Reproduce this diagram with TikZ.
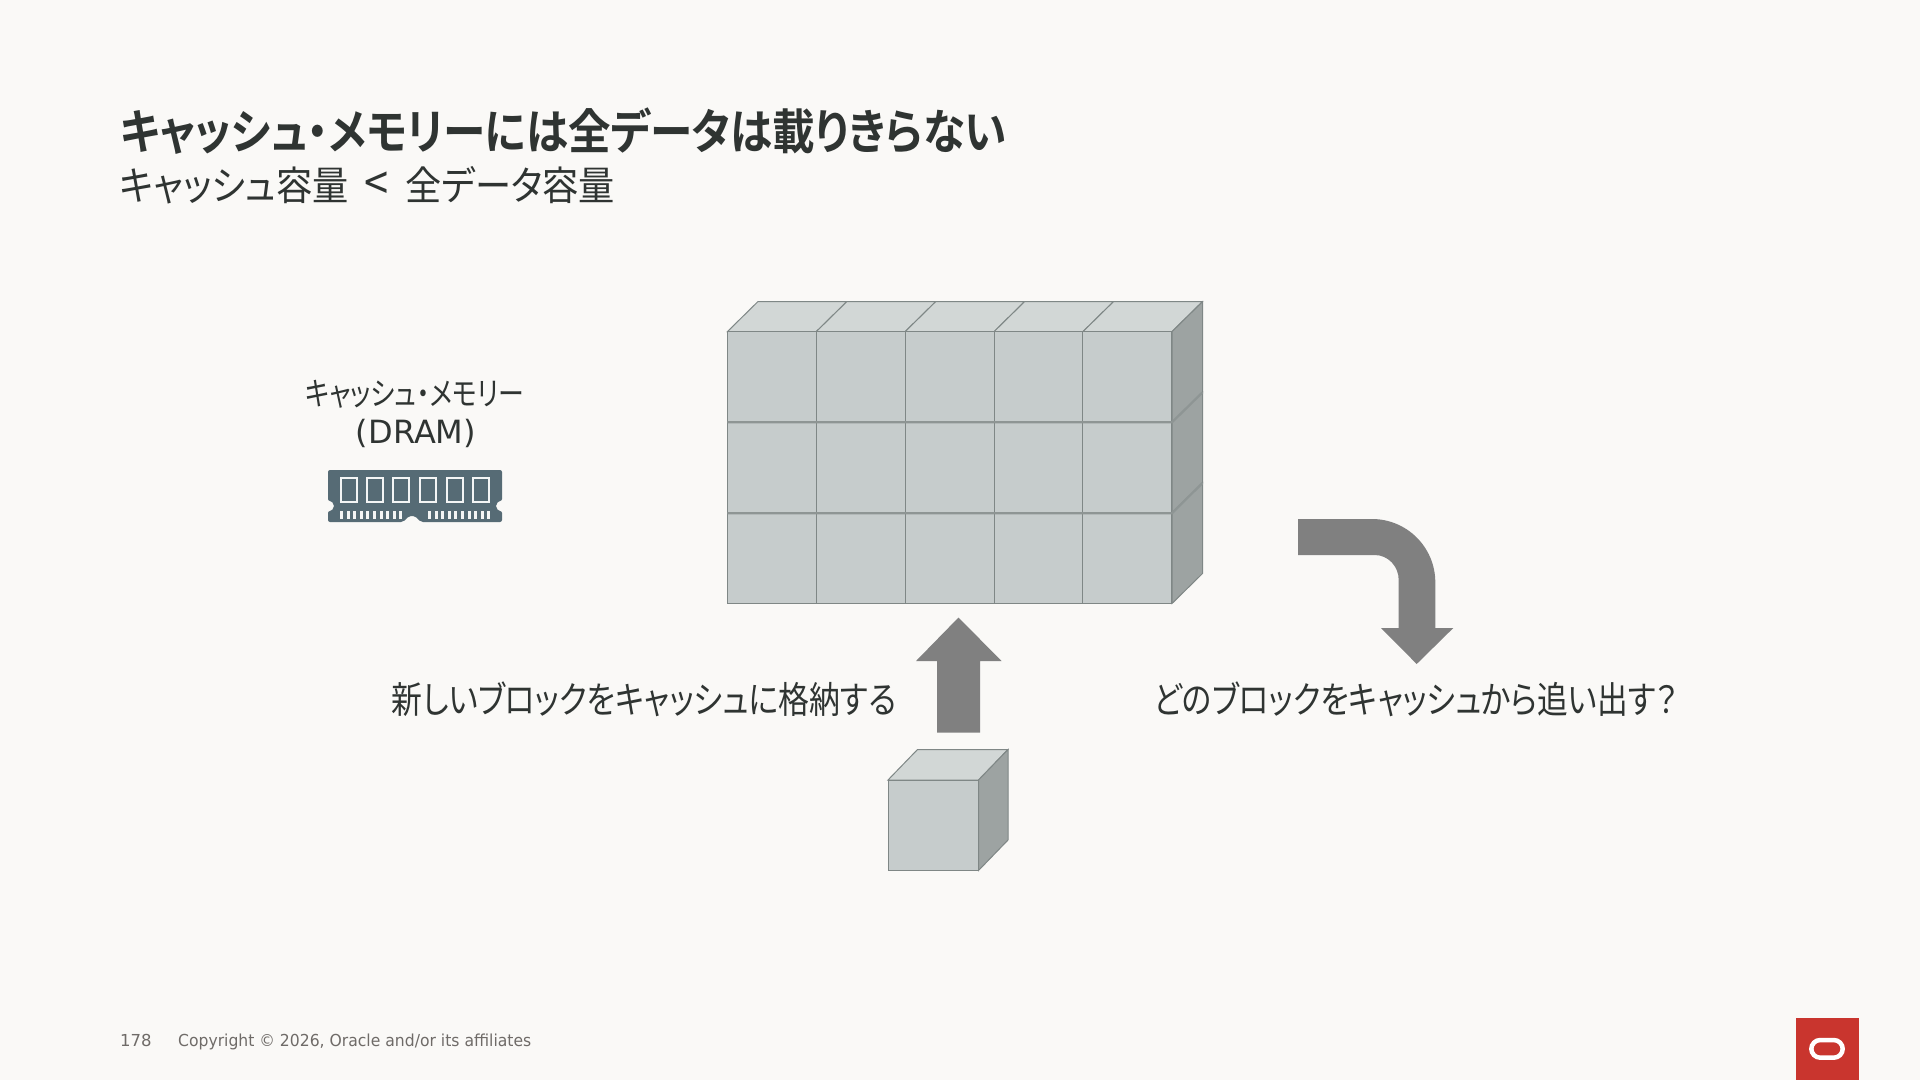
\documentclass[tikz,border=0pt]{standalone}
\usepackage{fontspec}
\usepackage{xcolor}
\usepackage{tikz}
\usetikzlibrary{positioning, calc}
\setmainfont{DejaVu Sans}
\newfontfamily\jpfont[RawFeature=+palt]{Noto Sans CJK JP}
\newfontfamily\jpbold[RawFeature=+palt]{Noto Sans CJK JP Bold}
\definecolor{pagebg}{HTML}{FAF9F7}
\definecolor{inktext}{HTML}{2F3432}
\definecolor{footgray}{HTML}{6F6B68}
\definecolor{cellfront}{HTML}{C6CCCC}
\definecolor{celltop}{HTML}{D2D7D6}
\definecolor{cellside}{HTML}{9DA3A2}
\definecolor{celledge}{HTML}{7F8786}
\definecolor{seamgray}{HTML}{8E9594}
\definecolor{blockarrow}{HTML}{808080}
\definecolor{ramblue}{HTML}{566B75}
\definecolor{ramlight}{HTML}{F4F5F5}
\definecolor{logored}{HTML}{C9352E}

\begin{document}
\begin{tikzpicture}[
    x=1pt, y=-1pt,
    front/.style={draw=celledge, line width=1pt, fill=cellfront},
    top/.style={draw=celledge, line width=1pt, fill=celltop},
    side/.style={draw=celledge, line width=1pt, fill=cellside},
    seam/.style={draw=seamgray, line width=2.2pt},
    block/.style={fill=blockarrow, draw=none},
    label/.style={inner sep=0pt, text=inktext, font=\jpfont\fontsize{37}{40}\selectfont},
    foot/.style={inner sep=0pt, anchor=base west, text=footgray, font=\fontsize{16.5}{20}\selectfont}
]
    \useasboundingbox (0,0) rectangle (1920,1080);
    \fill[pagebg] (0,0) rectangle (1920,1080);

    % Heading
    \node[label, anchor=west, xscale=0.887, font=\jpbold\fontsize{48}{50}\selectfont] (title) at (120,131) {キャッシュ・メモリーには全データは載りきらない};
    \node[label, anchor=west, xscale=0.905, font=\jpfont\fontsize{40}{44}\selectfont] (subtitle) at (120,185) {キャッシュ容量 \ {\fontsize{48}{44}\selectfont <} \ 全データ容量};

    % Memory label and module
    \node[label, xscale=0.81, font=\jpfont\fontsize{32}{36}\selectfont] (cachename) at (414.5,394.5) {キャッシュ・メモリー};
    \node[label, font=\fontsize{32}{36}\selectfont] (dram) at (416,433) {(DRAM)};
    \fill[ramblue, rounded corners=2pt] (328,470) -- (502,470) -- (502,501) arc (270:90:6 and 5) -- (502,522)
        -- (421,522) -- (415,516) -- (409,516) -- (403,522) -- (328,522) -- (328,511) arc (90:-90:6 and 5) -- cycle;
    \foreach \x in {341,367,393,420,447,473} {
        \draw[ramlight, line width=2pt] (\x,477.5) rectangle +(16,24);
    }
    \foreach \i in {0,...,9} {
        \fill[ramlight] ({340+\i*6.6},511) rectangle +(3,8);
        \fill[ramlight] ({428+\i*6.6},511) rectangle +(3,8);
    }

    % Stack of cache blocks
    \foreach \col in {0,...,4} {
        \path[top] ({727.3+\col*88.9},331.7) -- ({757.8+\col*88.9},301.7) -- ({846.7+\col*88.9},301.7) -- ({816.2+\col*88.9},331.7) -- cycle;
    }
    \foreach \row in {0,1,2} {
        \path[side] (1172,{331.7+\row*90.6}) -- (1202.5,{301.7+\row*90.6}) -- (1202.5,{392.3+\row*90.6}) -- (1172,{422.3+\row*90.6}) -- cycle;
        \foreach \col in {0,...,4} {
            \path[front] ({727.3+\col*88.9},{331.7+\row*90.6}) rectangle +(88.9,90.6);
        }
    }
    \draw[seam] (727.3,422.3) -- (1172,422.3) -- (1202.5,392.3);
    \draw[seam] (727.3,513.2) -- (1172,513.2) -- (1202.5,483);

    % Incoming block
    \path[top] (888,780) -- (917.5,749.5) -- (1008,749.5) -- (978.5,780) -- cycle;
    \path[side] (978.5,780) -- (1008,749.5) -- (1008,840) -- (978.5,870.5) -- cycle;
    \path[front] (888,780) rectangle (978.5,870.5);

    % Block arrows
    \path[block] (958.5,617.5) -- (1001.5,661) -- (980,661) -- (980,732.5) -- (937,732.5) -- (937,661) -- (916,661) -- cycle;
    \path[block] (1298,519) -- (1372,519) arc (-90:0:63.3) -- (1435.3,628) -- (1453.3,628) -- (1416.7,664) -- (1381,628) -- (1398.7,628)
        -- (1398.7,580) arc (0:-90:24 and 25) -- (1298,555) -- cycle;

    % Captions
    \node[label, xscale=0.835] (storetext) at (644,699) {新しいブロックをキャッシュに格納する};
    \node[label, xscale=0.83] (evicttext) at (1416,699) {どのブロックをキャッシュから追い出す？};

    % Footer
    \node[foot] (pagenum) at (120,1046.5) {178};
    \node[foot, xscale=0.946] (copyright) at (178,1046.5) {Copyright © 2026, Oracle and/or its affiliates};
    \fill[logored] (1796,1018) rectangle (1858.5,1080);
    \draw[white, line width=4.5pt, rounded corners=9pt] (1811.3,1040) rectangle (1842.7,1057.7);
\end{tikzpicture}
\end{document}
